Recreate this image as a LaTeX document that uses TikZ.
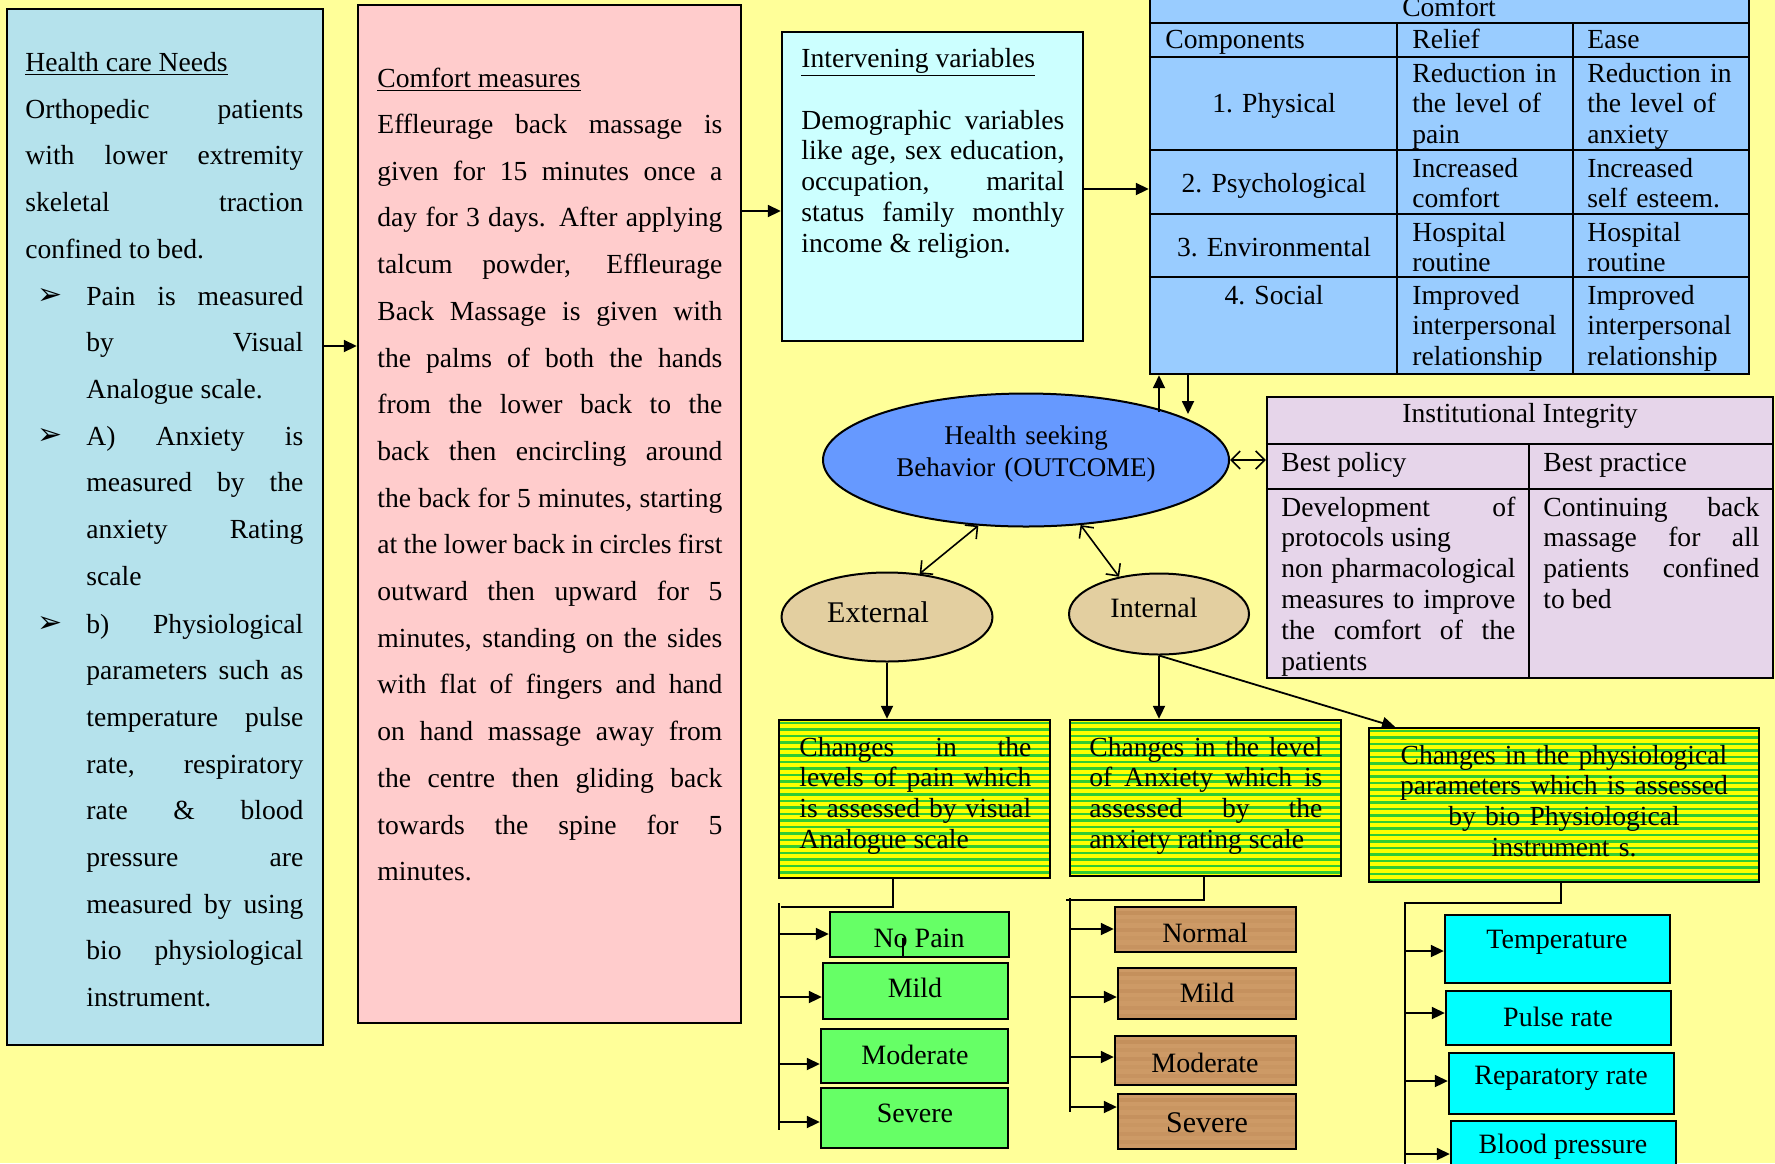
\documentclass[tikz,border=0pt]{standalone}
\usepackage{fontspec}
\setmainfont{Liberation Serif}
\newfontfamily\dejavu{DejaVu Sans}
\usetikzlibrary{arrows.meta,fit,shapes.geometric}
\definecolor{bgyellow}{HTML}{FFFF99}
\definecolor{water}{HTML}{B5E2EC}
\definecolor{pinkbox}{HTML}{FFCCCC}
\definecolor{ivbox}{HTML}{CCFFFF}
\definecolor{tblue}{HTML}{99CCFF}
\definecolor{hsbblue}{HTML}{6699FF}
\definecolor{instbox}{HTML}{E6D5EA}
\definecolor{tanell}{HTML}{E3CFA0}
\definecolor{stripey}{HTML}{FFFF00}
\definecolor{stripeg}{HTML}{33CC33}
\definecolor{greenbox}{HTML}{66FF66}
\definecolor{woodbox}{HTML}{CD9A66}
\definecolor{woodstreak}{HTML}{B07A48}
\definecolor{cyanbox}{HTML}{00FFFF}
\begin{document}
\begin{tikzpicture}[x=0.5pt,y=-0.5pt,
  rbox/.style={draw=black, line width=1.2pt, inner sep=0pt},
  txt/.style={inner sep=0pt, font=\fontsize{13.8pt}{23.35pt}\selectfont},
  para/.style={txt, align=justify, anchor=base west},
  small/.style={inner sep=0pt, font=\fontsize{13.8pt}{15.4pt}\selectfont},
  cell/.style={small, anchor=base west, text width=80pt, align=left},
  lbl/.style={inner sep=0pt, font=\fontsize{14pt}{14pt}\selectfont},
  blt/.style={inner sep=0pt, font=\dejavu\fontsize{15pt}{15pt}\selectfont},
  ell/.style={ellipse, draw=black, line width=1pt, inner sep=0pt},
  arr/.style={line width=0.9pt, -{Triangle[length=6.5pt,width=6pt]}},
  dbl/.style={line width=0.8pt, {Straight Barb[length=4.5pt,width=9pt]}-{Straight Barb[length=4.5pt,width=9pt]}},
  tree/.style={line width=0.9pt},
  stripes/.style={path picture={\foreach \k in {0,...,30}{\draw[stripeg, line width=1.1pt] ([yshift=-1.5pt-\k*3.25pt]path picture bounding box.north west) -- ([yshift=-1.5pt-\k*3.25pt]path picture bounding box.north east);}}},
  woodgrain/.style={path picture={\foreach \k/\o in {0/0.3,1/0.15,2/0.25,3/0.12,4/0.2,5/0.18}{\draw[woodstreak, opacity=\o, line width=2pt] ([yshift=-3pt-\k*4.2pt]path picture bounding box.north west) -- ([yshift=-3pt-\k*4.2pt]path picture bounding box.north east);}}}
]
\useasboundingbox (0,0) rectangle (1775,1163);
\clip (0,0) rectangle (1775,1163);
\fill[bgyellow] (0,0) rectangle (1775,1163);

% ---------- left panel ----------
\node[rbox, fill=water, fit={(7,9) (323,1045)}] (hcn) {};
\node[txt, anchor=base west] (hcnt) at (25,71) {\underline{Health care Needs}};
\node[para, text width=139pt] (hcnp) at (25,118) {Orthopedic patients\linebreak with lower extremity\linebreak skeletal traction\linebreak confined to bed.};
\node[blt] (bl1) at (50,296) {➢};
\node[para, text width=108.5pt] (b1) at (86,305) {Pain is measured\linebreak by Visual\linebreak Analogue scale.};
\node[blt] (bl2) at (50,436) {➢};
\node[para, text width=108.5pt] (b2) at (86,445) {A) Anxiety is\linebreak measured by the\linebreak anxiety Rating\linebreak scale};
\node[blt] (bl3) at (50,624) {➢};
\node[para, text width=108.5pt] (b3) at (86,633) {b) Physiological\linebreak parameters such as\linebreak temperature pulse\linebreak rate, respiratory\linebreak rate \& blood\linebreak pressure are\linebreak measured by using\linebreak bio physiological\linebreak instrument.};

% ---------- comfort measures ----------
\node[rbox, fill=pinkbox, fit={(358,5) (741,1023)}] (cm) {};
\node[txt, anchor=base west] (cmt) at (377,87) {\underline{Comfort measures}};
\node[para, text width=172.5pt] (cmp) at (377,133.5) {Effleurage back massage is\linebreak given for 15 minutes once a\linebreak day for 3 days. After applying\linebreak talcum powder, Effleurage\linebreak Back Massage is given with\linebreak the palms of both the hands\linebreak from the lower back to the\linebreak back then encircling around\linebreak the back for 5 minutes, starting\linebreak at the lower back in circles first\linebreak outward then upward for 5\linebreak minutes, standing on the sides\linebreak with flat of fingers and hand\linebreak on hand massage away from\linebreak the centre then gliding back\linebreak towards the spine for 5\linebreak minutes.};

% ---------- intervening variables ----------
\node[rbox, fill=ivbox, fit={(782,32) (1083,341)}] (iv) {};
\node[small, anchor=base west] (ivt) at (801,67) {\underline{Intervening variables}};
\node[small, align=justify, anchor=base west, text width=131.5pt] (ivp) at (801,129) {Demographic variables\linebreak like age, sex education,\linebreak occupation, marital\linebreak status family monthly\linebreak income \& religion.};

% ---------- comfort table ----------
\node[rbox, fill=tblue, fit={(1150,-12) (1749,374)}] (ct) {};
\foreach \yy in {23,57,150,214,277} \draw[line width=1.2pt] (ct.west |- 0,\yy) -- (ct.east |- 0,\yy);
\draw[line width=1.2pt] (1397,23) -- (ct.south -| 1397,0);
\draw[line width=1.2pt] (1573,23) -- (ct.south -| 1573,0);
\node[small, anchor=base] (ctc) at (1449,16) {Comfort};
\node[small, anchor=base west] (cth1) at (1165,48) {Components};
\node[small, anchor=base west] (cth2) at (1412,48) {Relief};
\node[small, anchor=base west] (cth3) at (1587,48) {Ease};
\node[small, anchor=base] (r1a) at (1274,112) {1. Physical};
\node[cell] (r1b) at (1412,82) {Reduction in\\the level of\\pain};
\node[cell] (r1c) at (1587,82) {Reduction in\\the level of\\anxiety};
\node[small, anchor=base] (r2a) at (1274,192) {2. Psychological};
\node[cell] (r2b) at (1412,177) {Increased\\comfort};
\node[cell] (r2c) at (1587,177) {Increased\\self esteem.};
\node[small, anchor=base] (r3a) at (1274,256) {3. Environmental};
\node[cell] (r3b) at (1412,241) {Hospital\\routine};
\node[cell] (r3c) at (1587,241) {Hospital\\routine};
\node[small, anchor=base] (r4a) at (1274,304) {4. Social};
\node[cell] (r4b) at (1412,304) {Improved\\interpersonal\\relationship};
\node[cell] (r4c) at (1587,304) {Improved\\interpersonal\\relationship};

% ---------- outcome ellipse ----------
\node[ell, fill=hsbblue, minimum width=203pt, minimum height=66.5pt] (hsb) at (1026,460) {};
\node[inner sep=0pt, font=\fontsize{13.5pt}{16pt}\selectfont, text width=180pt, align=center, anchor=base] (hsbt) at (1026,444) {Health seeking\\Behavior (OUTCOME)};

% ---------- institutional integrity ----------
\node[rbox, fill=instbox, fit={(1267,397) (1773,678)}] (inst) {};
\draw[line width=1.2pt] (inst.west |- 0,444) -- (inst.east |- 0,444);
\draw[line width=1.2pt] (inst.west |- 0,489) -- (inst.east |- 0,489);
\draw[line width=1.2pt] (1529,444) -- (inst.south -| 1529,0);
\node[small, anchor=base] (it) at (1520,422) {Institutional Integrity};
\node[small, anchor=base west] (ip1) at (1281,471) {Best policy};
\node[small, anchor=base west] (ip2) at (1543,471) {Best practice};
\node[small, anchor=base west, align=justify, text width=117pt] (ib1) at (1281,516) {Development of\linebreak protocols using\newline non pharmacological\linebreak measures to improve\linebreak the comfort of the\linebreak patients};
\node[small, anchor=base west, align=justify, text width=108pt] (ib2) at (1543,516) {Continuing back\linebreak massage for all\linebreak patients confined\linebreak to bed};

% ---------- external / internal ----------
\node[ell, fill=tanell, minimum width=105.5pt, minimum height=44.5pt] (ext) at (887,617) {};
\node[inner sep=0pt, font=\fontsize{15pt}{15pt}\selectfont] (extt) at (878,612) {External};
\node[ell, fill=tanell, minimum width=90pt, minimum height=40.5pt] (int) at (1159,614) {};
\node[inner sep=0pt, font=\fontsize{14pt}{14pt}\selectfont] (intt) at (1154,608) {Internal};

% ---------- changes boxes ----------
\node[rbox, fill=stripey, stripes, fit={(779,720) (1050,878)}] (c1) {};
\node[small, align=justify, anchor=base west, text width=116pt] (c1t) at (799,756) {Changes in the\linebreak levels of pain which\linebreak is assessed by visual\linebreak Analogue scale};
\node[rbox, fill=stripey, stripes, fit={(1070,720) (1341,876)}] (c2) {};
\node[small, align=justify, anchor=base west, text width=116.5pt] (c2t) at (1089,756) {Changes in the level\linebreak of Anxiety which is\linebreak assessed by the\linebreak anxiety rating scale};
\node[rbox, fill=stripey, stripes, fit={(1369,728) (1759,882)}] (c3) {};
\node[small, align=center, anchor=base, text width=185pt] (c3t) at (1564,764) {Changes in the physiological\\parameters which is assessed\\by bio Physiological\\instrument s.};

% ---------- pain boxes ----------
\node[rbox, fill=greenbox, fit={(830,912) (1009,957)}] (np) {};
\node[lbl] (npt) at (919,938) {No Pain};
\draw[line width=0.8pt] (903,938) -- (np.south -| 903,0);
\node[rbox, fill=greenbox, fit={(823,963) (1008,1019)}] (mi1) {};
\node[lbl] (mi1t) at (915,988) {Mild};
\node[rbox, fill=greenbox, fit={(821,1029) (1008,1083)}] (mo1) {};
\node[lbl] (mo1t) at (915,1055) {Moderate};
\node[rbox, fill=greenbox, fit={(821,1088) (1008,1148)}] (se1) {};
\node[lbl] (se1t) at (915,1113) {Severe};

% ---------- anxiety boxes ----------
\node[rbox, fill=woodbox, woodgrain, fit={(1115,907) (1296,952)}] (no2) {};
\node[lbl] (no2t) at (1205,933) {Normal};
\node[rbox, fill=woodbox, woodgrain, fit={(1118,968) (1296,1019)}] (mi2) {};
\node[lbl] (mi2t) at (1207,993) {Mild};
\node[rbox, fill=woodbox, woodgrain, fit={(1115,1036) (1296,1085)}] (mo2) {};
\node[lbl] (mo2t) at (1205,1063) {Moderate};
\node[rbox, fill=woodbox, woodgrain, fit={(1118,1094) (1296,1149)}] (se2) {};
\node[inner sep=0pt, font=\fontsize{15pt}{15pt}\selectfont] (se2t) at (1207,1123) {Severe};

% ---------- physiological boxes ----------
\node[rbox, fill=cyanbox, fit={(1445,915) (1670,983)}] (tp) {};
\node[lbl] (tpt) at (1557,942) {Temperature};
\node[rbox, fill=cyanbox, fit={(1446,991) (1671,1045)}] (pr) {};
\node[lbl] (prt) at (1558,1017) {Pulse rate};
\node[rbox, fill=cyanbox, fit={(1449,1053) (1674,1114)}] (rr) {};
\node[lbl] (rrt) at (1561,1078) {Reparatory rate};
\node[rbox, fill=cyanbox, fit={(1451,1121) (1676,1190)}] (bp) {};
\node[lbl] (bpt) at (1563,1147) {Blood pressure};

% ---------- connectors ----------
\draw[arr] (hcn.east |- 0,346) -- (cm.west |- 0,346);
\draw[arr] (cm.east |- 0,211) -- (iv.west |- 0,211);
\draw[arr] (iv.east |- 0,189) -- (ct.west |- 0,189);
\coordinate (u1) at (1159,412);
\coordinate (u2) at (1188,414);
\draw[arr] (u1) -- (u1 |- ct.south);
\draw[arr] (u2 |- ct.south) -- (u2);
\draw[dbl] (hsb.east) -- (inst.west |- hsb.east);
\draw[dbl] (hsb.234) -- (ext.53);
\draw[dbl] (hsb.310) -- (int.137);
\draw[arr] (ext.south) -- (ext.south |- c1.north);
\draw[arr] (int.south) -- (int.south |- c2.north);
\coordinate (e3) at (1395,728);
\draw[arr] (int.south) -- (e3 |- c3.north);

% tree 1
\draw[tree] (c1.south -| 893,0) -- (893,907) -- (781,907);
\draw[tree] (779,903) -- (779,1130);
\draw[arr] (779,934) -- (np.west |- 0,934);
\draw[arr] (779,997) -- (mi1.west |- 0,997);
\draw[arr] (779,1064) -- (mo1.west |- 0,1064);
\draw[arr] (779,1122) -- (se1.west |- 0,1122);
% tree 2
\draw[tree] (c2.south -| 1204,0) -- (1204,900) -- (1066,900);
\draw[tree] (1070,898) -- (1070,1112);
\draw[arr] (1070,929) -- (no2.west |- 0,929);
\draw[arr] (1070,997) -- (mi2.west |- 0,997);
\draw[arr] (1070,1057) -- (mo2.west |- 0,1057);
\draw[arr] (1070,1107) -- (se2.west |- 0,1107);
% tree 3
\draw[tree] (c3.south -| 1561,0) -- (1561,903) -- (1406,903);
\draw[tree] (1405,902) -- (1405,1170);
\draw[arr] (1405,951) -- (tp.west |- 0,951);
\draw[arr] (1405,1013) -- (pr.west |- 0,1013);
\draw[arr] (1405,1081) -- (rr.west |- 0,1081);
\draw[arr] (1405,1154) -- (bp.west |- 0,1154);
\end{tikzpicture}
\end{document}
